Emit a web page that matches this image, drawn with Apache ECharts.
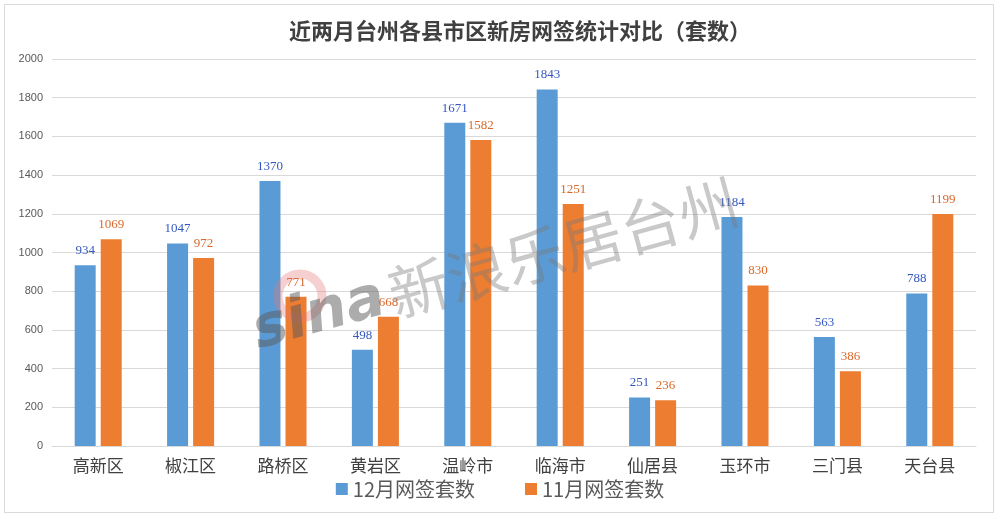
<!DOCTYPE html>
<html><head><meta charset="utf-8">
<script src="https://cdn.jsdelivr.net/npm/echarts@6/dist/echarts.min.js"></script>
<style>html,body{margin:0;padding:0;background:#fff}#c{width:1000px;height:519px}</style>
</head><body><div id="c"></div>
<script>
const categories = ['高新区','椒江区','路桥区','黄岩区','温岭市','临海市','仙居县','玉环市','三门县','天台县'];
const dec = [934,1047,1370,498,1671,1843,251,1184,563,788];
const nov = [1069,972,771,668,1582,1251,236,830,386,1199];
const seriesNames = ['12月网签套数','11月网签套数'];
const yTicks = {min:0,max:2000,interval:200};

const chart = echarts.init(document.getElementById('c'));
const cjk = '"Noto Sans CJK SC", sans-serif';
const serif = '"Liberation Serif","DejaVu Serif", serif';
chart.setOption({
  animation:false,
  backgroundColor:'#fff',
  title:{text:'近两月台州各县市区新房网签统计对比（套数）',left:515,textAlign:'center',top:15,
    textStyle:{fontFamily:cjk,fontSize:22,fontWeight:'bold',color:'#404040'}},
  grid:{left:52,right:24,top:59,bottom:73},
  legend:{bottom:15,left:'center',itemWidth:12,itemHeight:12,itemGap:50,icon:'rect',
    textStyle:{fontFamily:cjk,fontSize:20,color:'#595959'}},
  xAxis:{type:'category',data:categories,
    axisLine:{lineStyle:{color:'#d9d9d9'}},axisTick:{show:false},
    axisLabel:{fontFamily:cjk,fontSize:17,color:'#404040',margin:11}},
  yAxis:{type:'value',min:yTicks.min,max:yTicks.max,interval:yTicks.interval,
    axisLine:{show:false},axisTick:{show:false},
    splitLine:{lineStyle:{color:'#d9d9d9'}},
    axisLabel:{formatter:v=>String(v),fontFamily:'"Liberation Sans",Arial,sans-serif',fontSize:11,color:'#595959',margin:9}},
  series:[
    {name:seriesNames[0],type:'bar',data:dec,barWidth:21,barGap:'24%',
     itemStyle:{color:'#5b9bd5'},
     label:{show:true,position:'top',distance:8,color:'#3558c0',fontFamily:serif,fontSize:13}},
    {name:seriesNames[1],type:'bar',data:nov,barWidth:21,barGap:'24%',
     itemStyle:{color:'#ed7d31'},
     label:{show:true,position:'top',distance:8,color:'#d9682a',fontFamily:serif,fontSize:13}}
  ],
  graphic:[
    {type:'rect',shape:{x:4.5,y:4.5,width:989,height:508},style:{fill:'none',stroke:'#d9d9d9',lineWidth:1},silent:true,z:-1},
    {type:'circle',shape:{cx:300,cy:296,r:22},z:99,silent:true,
      style:{fill:'none',stroke:'rgba(230,120,120,0.35)',lineWidth:9}},
    {type:'text',x:398,y:325,rotation:0.27,z:100,silent:true,
      style:{text:'新浪乐居台州',font:'60px "Noto Sans CJK SC", sans-serif',fill:'rgba(120,120,120,0.4)',textVerticalAlign:'bottom'}},
    {type:'text',x:262,y:362,rotation:0.27,z:100,silent:true,
      style:{text:'sina',font:'italic bold 58px "DejaVu Sans", sans-serif',fill:'rgba(90,90,90,0.5)',textVerticalAlign:'bottom'}}
  ]
});
</script></body></html>
